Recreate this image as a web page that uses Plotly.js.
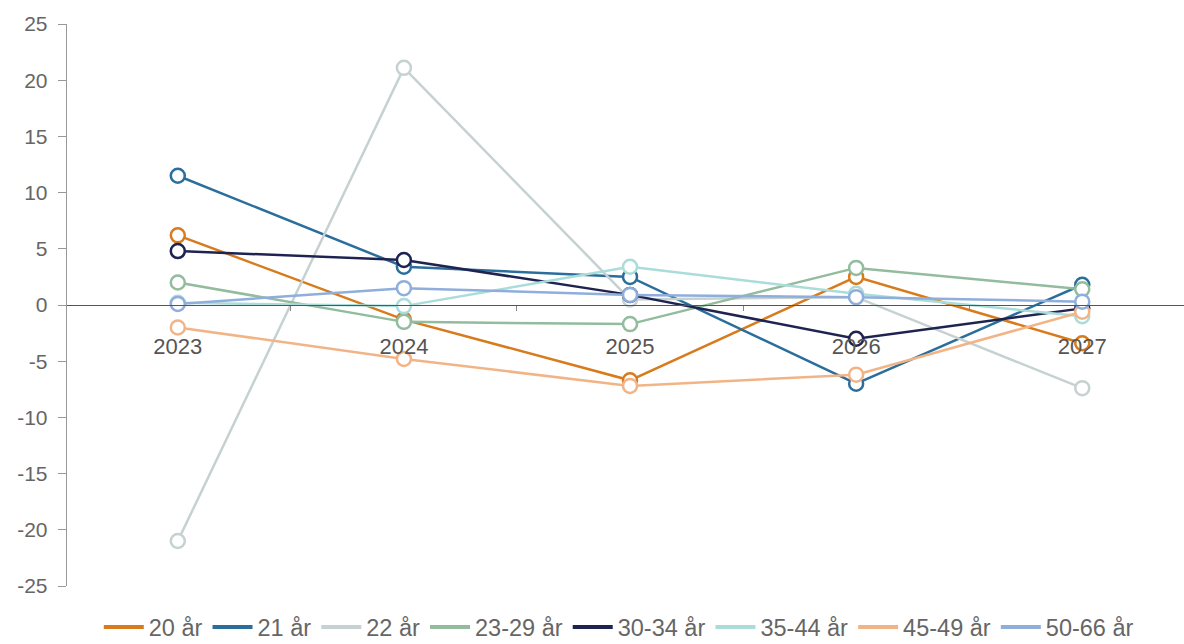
<!DOCTYPE html>
<html>
<head>
<meta charset="utf-8">
<script src="https://cdn.plot.ly/plotly-3.0.1.min.js"></script>
<style>html,body{margin:0;padding:0;background:#fff;}#chart{width:1184px;height:644px;}</style>
</head>
<body>
<div id="chart"></div>
<script>
const years = ['2023', '2024', '2025', '2026', '2027'];
const seriesNames = ['20 år', '21 år', '22 år', '23-29 år', '30-34 år', '35-44 år', '45-49 år', '50-66 år'];
const s20 = [6.2, -1.3, -6.7, 2.5, -3.4];
const s21 = [11.5, 3.4, 2.5, -7.0, 1.8];
const s22 = [-21.0, 21.1, 0.5, 0.7, -7.4];
const s23_29 = [2.0, -1.5, -1.7, 3.3, 1.4];
const s30_34 = [4.8, 4.0, 0.9, -3.0, -0.3];
const s35_44 = [0.2, -0.1, 3.4, 1.0, -1.0];
const s45_49 = [-2.0, -4.8, -7.2, -6.2, -0.6];
const s50_66 = [0.1, 1.5, 0.9, 0.7, 0.3];
const seriesValues = [s20, s21, s22, s23_29, s30_34, s35_44, s45_49, s50_66];
const yTickVals = [25, 20, 15, 10, 5, 0, -5, -10, -15, -20, -25];
const yTickText = ['25', '20', '15', '10', '5', '0', '-5', '-10', '-15', '-20', '-25'];
const colors = ['#D77B1C', '#2B6E9B', '#C6D1D1', '#92BC9D', '#1E2350', '#AADCDA', '#F2B487', '#8FAEDC'];

const traces = [];
seriesNames.forEach((name, i) => {
  traces.push({
    x: years, y: seriesValues[i], name: name, type: 'scatter', mode: 'lines+markers',
    line: {color: colors[i], width: 2.5},
    marker: {symbol: 'circle', size: 14, color: '#ffffff', line: {color: colors[i], width: 2.5}},
    showlegend: false, hoverinfo: 'x+y+name'
  });
});
seriesNames.forEach((name, i) => {
  traces.push({
    x: [null], y: [null], name: name, type: 'scatter', mode: 'lines',
    line: {color: colors[i], width: 4}, showlegend: true, hoverinfo: 'skip'
  });
});

const layout = {
  width: 1184, height: 644,
  margin: {l: 67, r: 0, t: 24, b: 58, autoexpand: false},
  paper_bgcolor: '#ffffff', plot_bgcolor: '#ffffff',
  font: {family: 'Liberation Sans, Arial, sans-serif', color: '#666666'},
  showlegend: true,
  legend: {orientation: 'h', x: 0.494, xanchor: 'center', y: -0.034, yanchor: 'top',
    font: {size: 23.5, color: '#666666'}, itemwidth: 40, tracegroupgap: 0},
  xaxis: {
    type: 'category', range: [-0.49, 4.45], anchor: 'free', position: 0.5,
    showline: true, linecolor: '#555555', linewidth: 1.3,
    ticks: 'outside', ticklen: 5, tickcolor: '#888888', tickson: 'boundaries',
    ticklabelstandoff: 21,
    tickfont: {size: 22, color: '#555555'},
    showgrid: false, zeroline: false, fixedrange: true
  },
  yaxis: {
    range: [-25, 25], tickmode: 'array', tickvals: yTickVals, ticktext: yTickText,
    showline: true, linecolor: '#999999', linewidth: 1.3,
    ticks: 'outside', ticklen: 8, tickcolor: '#999999', ticklabelstandoff: 6,
    tickfont: {size: 21, color: '#666666'},
    showgrid: false, zeroline: false, fixedrange: true
  }
};

Plotly.newPlot('chart', traces, layout, {displayModeBar: false, staticPlot: true});
</script>
</body>
</html>
